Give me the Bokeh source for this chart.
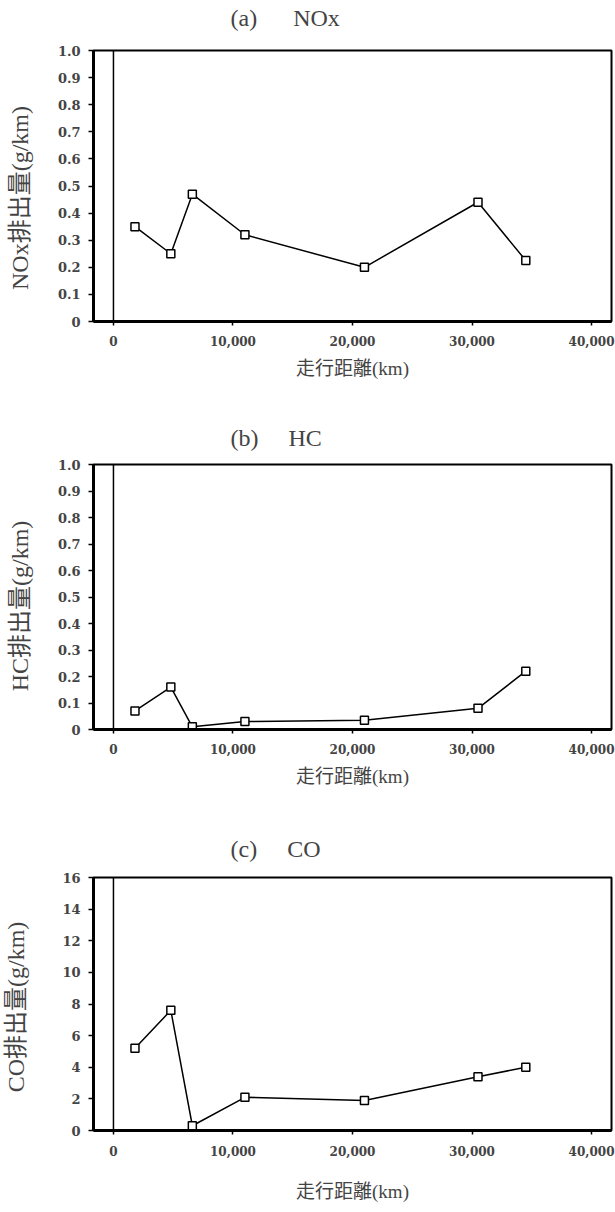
from bokeh.plotting import figure
from bokeh.models import (Range1d, FixedTicker, Span, NumeralTickFormatter,
                          PrintfTickFormatter, Title)
from bokeh.layouts import column
from bokeh.embed import file_html
from bokeh.resources import INLINE

# ---- data ----
distance_km = [1800, 4800, 6600, 11000, 21000, 30500, 34500]
nox = [0.35, 0.25, 0.47, 0.32, 0.20, 0.44, 0.225]
hc = [0.07, 0.16, 0.01, 0.03, 0.035, 0.08, 0.22]
co = [5.2, 7.6, 0.3, 2.1, 1.9, 3.4, 4.0]

x_ticks = [0, 10000, 20000, 30000, 40000]
frac_ticks = [0, 0.1, 0.2, 0.3, 0.4, 0.5, 0.6, 0.7, 0.8, 0.9, 1.0]
co_ticks = [0, 2, 4, 6, 8, 10, 12, 14, 16]

NB = "\u00a0"
titles = ["(a)" + NB * 6 + "NOx", "(b)" + NB * 5 + "HC", "(c)" + NB * 5 + "CO"]
ylabels = ["NOx排出量(g/km)", "HC排出量(g/km)", "CO排出量(g/km)"]
xlabel = "走行距離(km)"

SERIF = "'Liberation Serif', 'Noto Sans CJK JP'"
TICKFONT = "'DejaVu Serif'"


def panel(title, ylab, yvals, yticks, ymax, decimal, fh, btop, bbot,
          spacer, ylab_pad, ylab_standoff, tick_standoff, xlab_standoff):
    p = figure(width=615, height=btop + fh + bbot, output_backend="svg",
               toolbar_location=None,
               x_range=Range1d(-1670, 41670), y_range=Range1d(0, ymax),
               min_border_left=93, min_border_right=4,
               min_border_top=btop, min_border_bottom=bbot)
    p.frame_height = fh
    # spacer between frame and title
    p.add_layout(Title(text=NB, text_font_size=f"{spacer}px", standoff=0), "above")
    p.title.text = title
    p.title.align = "left"
    p.title.offset = 137
    p.title.text_font = SERIF
    p.title.text_font_size = "24px"
    p.title.text_font_style = "normal"
    p.title.text_line_height = 0.8
    p.title.standoff = 4
    p.grid.visible = False
    p.outline_line_color = "black"
    p.outline_line_width = 2
    p.background_fill_color = "white"
    p.border_fill_color = "white"

    xa = p.xaxis[0]
    xa.ticker = FixedTicker(ticks=x_ticks)
    xa.formatter = NumeralTickFormatter(format="0,0")
    xa.minor_tick_line_color = None
    xa.major_tick_in = 0
    xa.major_tick_out = 4
    xa.major_tick_line_width = 1.5
    xa.axis_line_width = 3
    xa.major_label_text_font = TICKFONT
    xa.major_label_text_font_size = "12px"
    xa.major_label_text_font_style = "bold"
    xa.major_label_standoff = tick_standoff
    xa.axis_label = xlabel
    xa.axis_label_text_font = SERIF
    xa.axis_label_text_font_size = "19px"
    xa.axis_label_text_font_style = "normal"
    xa.axis_label_standoff = xlab_standoff

    ya = p.yaxis[0]
    ya.ticker = FixedTicker(ticks=yticks)
    if decimal:
        ya.formatter = PrintfTickFormatter(format="%.1f")
        ya.major_label_overrides = {0: "0"}
    ya.minor_tick_line_color = None
    ya.major_tick_in = 0
    ya.major_tick_out = 5
    ya.major_tick_line_width = 1.5
    ya.axis_line_width = 3
    ya.major_label_text_font = TICKFONT
    ya.major_label_text_font_size = "13px"
    ya.major_label_text_font_style = "bold"
    ya.major_label_standoff = 8
    ya.axis_label = ylab + NB * ylab_pad
    ya.axis_label_text_font = SERIF
    ya.axis_label_text_font_size = "24px"
    ya.axis_label_text_font_style = "normal"
    ya.axis_label_standoff = ylab_standoff

    p.add_layout(Span(location=0, dimension="height", line_color="black",
                      line_width=1.5))
    p.line(distance_km, yvals, line_color="black", line_width=1.5)
    p.scatter(distance_km, yvals, marker="square", size=8,
              fill_color="white", line_color="black", line_width=1.5)
    return p


pa = panel(titles[0], ylabels[0], nox, frac_ticks, 1.0, True, 271, 48, 81, 14, 4, 22, 10, 9)
pb = panel(titles[1], ylabels[1], hc, frac_ticks, 1.0, True, 265, 62, 85, 9, 3, 22, 10, 9)
pc = panel(titles[2], ylabels[2], co, co_ticks, 16, False, 253, 63, 82, 11, 1, 30, 11, 22)

layout = column(pa, pb, pc, spacing=0)
open("out.html", "w").write(file_html(layout, INLINE))
